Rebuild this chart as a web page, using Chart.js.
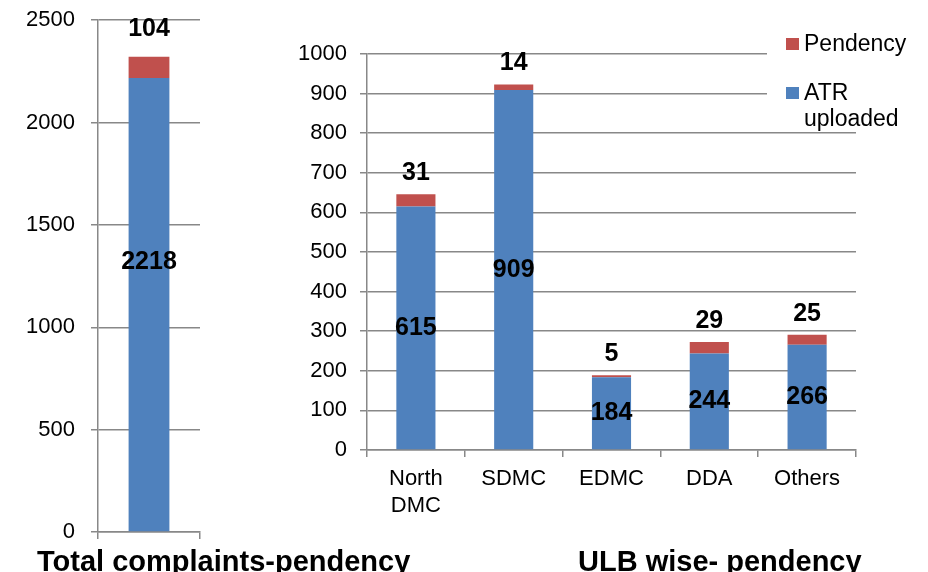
<!DOCTYPE html>
<html lang="en">
  <head>
    <meta charset="UTF-8" />
    <title>Complaints pendency</title>
    <script src="https://cdn.jsdelivr.net/npm/chart.js@4.4.0/dist/chart.umd.min.js"></script>
    <style>
      body { margin: 0; background: #fff; font-family: "Liberation Sans", Arial, sans-serif; }
      .wrap { position: relative; width: 928px; height: 572px; overflow: hidden; }
      #totalChart { position: absolute; left: 0; top: -9px; }
      #ulbChart { position: absolute; left: 280px; top: 0; }
      .title { position: absolute; top: 545px; font-weight: bold; font-size: 29px; color: #000; white-space: nowrap; }
    </style>
  </head>
  <body>
    <div class="wrap">
      <canvas id="totalChart" width="215" height="574"></canvas>
      <canvas id="ulbChart" width="648" height="520"></canvas>
      <div class="title" style="left: 37px">Total complaints-pendency</div>
      <div class="title" style="left: 578px">ULB wise- pendency</div>
    </div>

    <script>
      // data
      const totalLabels = [""];
      const totalAtr = [2218];
      const totalPending = [104];

      const ulbLabels = [["North", "DMC"], "SDMC", "EDMC", "DDA", "Others"];
      const ulbAtr = [615, 909, 184, 244, 266];
      const ulbPending = [31, 14, 5, 29, 25];

      const blue = "#4F81BD";
      const red = "#C0504D";
      const gridGray = "#888888";
      const font = "'Liberation Sans', Arial, sans-serif";

      Chart.defaults.font.family = font;
      Chart.defaults.color = "#000";
      Chart.defaults.animation = false;

      // value labels on the bars
      const barLabels = {
        id: "barLabels",
        afterDatasetsDraw(chart, args, opts) {
          const ctx = chart.ctx;
          ctx.save();
          ctx.font = "bold 25px " + font;
          ctx.fillStyle = "#000";
          ctx.textAlign = "center";
          ctx.textBaseline = "middle";
          chart.data.datasets.forEach((ds, di) => {
            const meta = chart.getDatasetMeta(di);
            meta.data.forEach((bar, i) => {
              let y;
              if (di === 0) y = (bar.y + bar.base) / 2 + (opts.atrShift || 0);
              else y = bar.y - opts.topGap;
              ctx.fillText(String(ds.data[i]), bar.x, y);
            });
          });
          ctx.restore();
        },
      };

      // legend drawn over the plot like the original
      const sideLegend = {
        id: "sideLegend",
        afterDraw(chart) {
          const ctx = chart.ctx;
          ctx.save();
          ctx.fillStyle = "#fff";
          ctx.fillRect(487, 26, 161, 96);
          ctx.font = "23px " + font;
          ctx.textBaseline = "middle";
          ctx.textAlign = "left";
          ctx.fillStyle = red;
          ctx.fillRect(506, 38, 13, 12);
          ctx.fillStyle = blue;
          ctx.fillRect(506, 87, 13, 12);
          ctx.fillStyle = "#000";
          ctx.fillText("Pendency", 524, 45);
          ctx.fillText("ATR", 524, 94);
          ctx.fillText("uploaded", 524, 120);
          ctx.restore();
        },
      };

      function makeChart(id, labels, atr, pending, cfg) {
        return new Chart(document.getElementById(id), {
          type: "bar",
          data: {
            labels: labels,
            datasets: [
              { label: "ATR uploaded", data: atr, backgroundColor: blue },
              { label: "Pendency", data: pending, backgroundColor: red },
            ],
          },
          options: {
            responsive: false,
            layout: { padding: cfg.padding },
            datasets: { bar: { categoryPercentage: 1, barPercentage: 0.4 } },
            plugins: {
              legend: { display: false },
              tooltip: { enabled: false },
              barLabels: { topGap: cfg.topGap, atrShift: cfg.atrShift },
            },
            scales: {
              x: {
                stacked: true,
                grid: { drawOnChartArea: false, color: gridGray, lineWidth: 1.5, tickLength: 7 },
                border: { color: gridGray, width: 1.5 },
                ticks: { font: { size: 22 }, padding: 9, maxRotation: 0 },
                afterFit(scale) { scale.height = cfg.xHeight; },
              },
              y: {
                stacked: true,
                min: 0,
                max: cfg.max,
                grid: { color: gridGray, lineWidth: 1.5, tickLength: 7 },
                border: { color: gridGray, width: 1.5 },
                ticks: {
                  stepSize: cfg.step,
                  font: { size: 22 },
                  padding: cfg.tickPad,
                  callback: (v) => String(v),
                },
                afterFit(scale) { scale.width = cfg.yWidth; },
              },
            },
          },
          plugins: cfg.plugins,
        });
      }

      makeChart("totalChart", totalLabels, totalAtr, totalPending, {
        padding: { top: 10, right: 15, bottom: 0, left: 0 },
        xHeight: 33,
        yWidth: 98,
        max: 2500,
        step: 500,
        tickPad: 16,
        topGap: 28,
        atrShift: -42,
        plugins: [barLabels],
      });

      makeChart("ulbChart", ulbLabels, ulbAtr, ulbPending, {
        padding: { top: 54, right: 72, bottom: 0, left: 0 },
        xHeight: 70,
        yWidth: 87,
        max: 1000,
        step: 100,
        tickPad: 13,
        topGap: 21,
        atrShift: 0,
        plugins: [barLabels, sideLegend],
      });
    </script>
  </body>
</html>
